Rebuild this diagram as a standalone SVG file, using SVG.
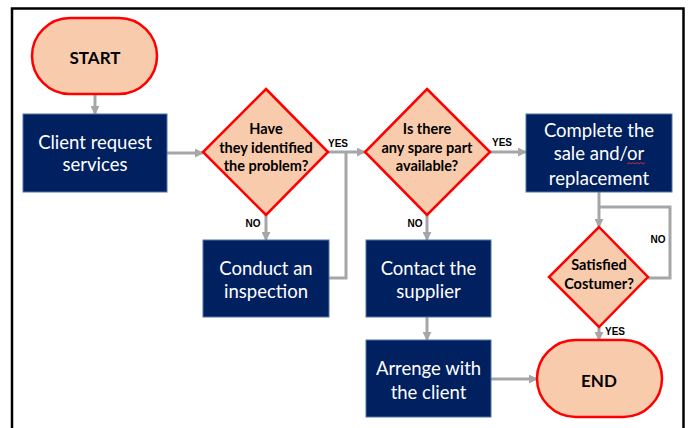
<svg xmlns="http://www.w3.org/2000/svg" width="691" height="428" viewBox="0 0 691 428">
<defs>
<style>
.frame{fill:none;stroke:#000;stroke-width:2.5}
.term{fill:#F8CBAD;stroke:#FF0000;stroke-width:2.5}
.dec{fill:#F8CBAD;stroke:#FF0000;stroke-width:2.5;stroke-linejoin:miter}
.box{fill:#002060;stroke:#4F74A8;stroke-width:1}
.conn{fill:none;stroke:#A6A6A6;stroke-width:3}
.bt{font-family:Lato,"Open Sans",sans-serif;font-size:18.5px;fill:#fff;text-anchor:middle;dominant-baseline:central}
.tt{font-family:Lato,"Open Sans",sans-serif;font-size:17px;font-weight:bold;fill:#000;text-anchor:middle;dominant-baseline:central}
.dt{font-family:Lato,"Open Sans",sans-serif;font-size:14.5px;font-weight:bold;fill:#000;text-anchor:middle;dominant-baseline:central}
.lb{font-family:"Liberation Sans",Arial,sans-serif;font-size:10px;font-weight:bold;fill:#000;text-anchor:middle;dominant-baseline:central}
</style>
<marker id="ah" viewBox="0 0 10 10" refX="9" refY="5" markerWidth="9" markerHeight="9" markerUnits="userSpaceOnUse" orient="auto">
<path d="M0,0 L10,5 L0,10 z" fill="#A6A6A6"/>
</marker>
</defs>
<rect width="691" height="428" fill="#fff"/>
<path class="frame" d="M12,432 V8.5 H683.5 V432"/>
<g id="connectors">
<path class="conn" d="M95,94 V114" marker-end="url(#ah)"/>
<path class="conn" d="M167,153 H203" marker-end="url(#ah)"/>
<path class="conn" d="M266,215 V240" marker-end="url(#ah)"/>
<path class="conn" d="M328,152 H365" marker-end="url(#ah)"/>
<path class="conn" d="M329,278 H346 V152"/>
<path class="conn" d="M490,152 H526" marker-end="url(#ah)"/>
<path class="conn" d="M427,215 V240" marker-end="url(#ah)"/>
<path class="conn" d="M427,317 V340" marker-end="url(#ah)"/>
<path class="conn" d="M491,379 H537" marker-end="url(#ah)"/>
<path class="conn" d="M599,192 V227" marker-end="url(#ah)"/>
<path class="conn" d="M648,278 H670 V207 H599"/>
<path class="conn" d="M599,327 V340" marker-end="url(#ah)"/>
<text class="lb" x="338" y="143">YES</text>
<text class="lb" x="253" y="223">NO</text>
<text class="lb" x="502" y="142">YES</text>
<text class="lb" x="415" y="223">NO</text>
<text class="lb" x="658" y="239">NO</text>
<text class="lb" x="615" y="331">YES</text>
</g>
<g id="start">
<rect class="term" x="32" y="18" width="125" height="76" rx="38"/>
<text class="tt" x="95" y="57">START</text>
</g>
<g id="client">
<rect class="box" x="23" y="114" width="144" height="78"/>
<text class="bt" x="95" y="142">Client request</text>
<text class="bt" x="95" y="164">services</text>
</g>
<g id="identified">
<polygon class="dec" points="266,89 328,152 266,215 203,152"/>
<text class="dt" x="266" y="128">Have</text>
<text class="dt" x="266" y="147">they identified</text>
<text class="dt" x="266" y="165">the problem?</text>
</g>
<g id="inspection">
<rect class="box" x="203" y="240" width="126" height="77"/>
<text class="bt" x="266" y="268">Conduct an</text>
<text class="bt" x="266" y="291">inspection</text>
</g>
<g id="spare">
<polygon class="dec" points="427,89 490,152 427,215 365,152"/>
<text class="dt" x="427" y="128">Is there</text>
<text class="dt" x="427" y="147">any spare part</text>
<text class="dt" x="427" y="165">available?</text>
</g>
<g id="supplier">
<rect class="box" x="366" y="240" width="125" height="77"/>
<text class="bt" x="428.5" y="268">Contact the</text>
<text class="bt" x="428.5" y="291">supplier</text>
</g>
<g id="arrange">
<rect class="box" x="366" y="340" width="125" height="77"/>
<text class="bt" x="428.5" y="368">Arrenge with</text>
<text class="bt" x="428.5" y="392">the client</text>
</g>
<g id="complete">
<rect class="box" x="526" y="114" width="146" height="78"/>
<text class="bt" x="599" y="130">Complete the</text>
<text class="bt" x="599" y="153">sale and/or</text>
<text class="bt" x="599" y="178">replacement</text>
<path d="M627,164 l2,-1.5 l2,1.5 l2,-1.5 l2,1.5 l2,-1.5 l2,1.5 l2,-1.5 l2,1.5 l2,-1.5" fill="none" stroke="#E03030" stroke-width="0.9"/>
</g>
<g id="satisfied">
<polygon class="dec" points="599,227 648,277 599,327 549,277"/>
<text class="dt" x="599" y="264">Satisfied</text>
<text class="dt" x="599" y="283">Costumer?</text>
</g>
<g id="end">
<rect class="term" x="537" y="340" width="125" height="77" rx="38.5"/>
<text class="tt" x="599" y="380">END</text>
</g>
</svg>
